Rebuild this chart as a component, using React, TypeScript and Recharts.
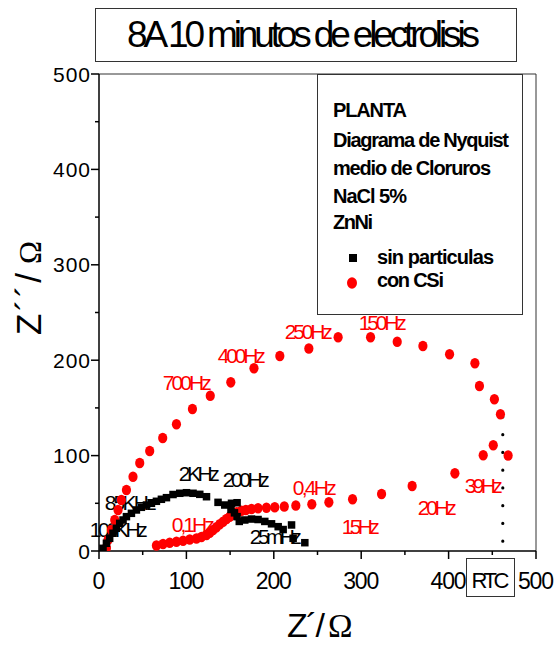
import React from "react";
import {
  ScatterChart,
  Scatter,
  XAxis,
  YAxis,
  ReferenceLine,
  ReferenceDot,
  Customized,
} from "recharts";

const SANS = "'Liberation Sans', Arial, sans-serif";
const SERIF = "'Liberation Serif', 'Times New Roman', serif";

// Z' (real) and Z'' (imaginary) in ohms, ZnNi without particles
const sinParticulasRe = [
  4.6, 8.5, 12.2, 16.0, 19.9, 23.7, 27.5, 31.4, 37.1, 42.8, 48.5, 54.3, 60.0, 65.7, 71.4, 77.2,
  84.7, 92.4, 100.1, 107.6, 115.3, 123.0, 136.2, 143.9, 151.6, 158.0, 151.0, 155.0, 158.0, 160.5,
  166.8, 174.5, 182.0, 189.7, 197.4, 205.0, 210.7, 220.3, 222.1, 235.5,
];
const sinParticulasIm = [
  2.8, 8.1, 13.3, 18.6, 23.8, 29.0, 32.5, 36.0, 39.5, 43.0, 45.8, 48.2, 50.0, 52.1, 54.2, 55.9,
  59.2, 60.5, 61.1, 60.5, 59.4, 56.9, 51.0, 48.2, 50.0, 50.6, 43.5, 40.0, 36.0, 31.0,
  32.5, 33.5, 33.0, 31.0, 28.5, 25.5, 22.5, 27.3, 13.3, 8.7,
];

// ZnNi with CSi particles: high-frequency arc, then low-frequency branch
const conCSiRe = [
  8.5, 10.3, 14.2, 18.0, 21.8, 25.6, 31.4, 38.9, 46.6, 58.0, 72.9, 88.6, 106.9, 127.3, 150.8,
  177.3, 206.9, 240.1, 273.6, 310.7, 341.2, 370.6, 401.1, 430.1, 435.3, 452.4, 459.3, 468.1,
  451.1, 439.6, 407.2, 358.3, 323.3, 290.1, 263.0, 243.5, 225.2, 212.0, 201.1, 191.6, 182.0,
  174.5, 168.0, 163.0, 157.6, 153.4, 149.6, 145.9, 142.0, 138.2, 134.4, 130.5, 126.7, 123.0,
  117.2, 111.5, 103.8, 96.2, 88.6, 80.9, 73.3, 65.7,
];
const conCSiIm = [
  3.1, 11.5, 22.0, 32.5, 43.0, 53.5, 64.0, 77.9, 92.2, 104.8, 118.4, 132.8, 148.8, 162.8, 176.8,
  191.5, 204.4, 212.3, 224.0, 224.0, 219.4, 214.9, 206.2, 196.8, 173.0, 159.1, 143.4, 100.1,
  110.8, 100.3, 81.4, 68.1, 59.7, 54.2, 51.0, 49.0, 47.7, 46.6, 45.8, 45.4, 44.8,
  44.0, 43.0, 42.2, 40.6, 38.5, 36.0, 33.5, 30.7, 28.0, 24.8, 22.0, 19.2, 16.8,
  14.7, 13.1, 12.1, 10.8, 9.7, 8.7, 7.3, 5.8,
];

// frequency annotations, anchored at the start of the text baseline (data units)
const sinParticulasFreqs = ["100KHz", "85KHz", "2KHz", "200Hz", "25mHz"];
const sinParticulasFreqRe = [-10.6, 6.5, 91.2, 141.6, 172.6];
const sinParticulasFreqIm = [14.7, 43.0, 73.4, 67.1, 7.3];

const conCSiFreqs = ["700Hz", "400Hz", "250Hz", "150Hz", "39Hz", "20Hz", "15Hz", "0,4Hz", "0,1Hz"];
const conCSiFreqRe = [72.9, 135.9, 212.6, 297.3, 418.6, 364.8, 277.8, 221.7, 83.2];
const conCSiFreqIm = [168.8, 197.1, 222.2, 231.7, 60.8, 37.7, 17.8, 58.7, 19.9];

const axisTicks = [0, 50, 100, 150, 200, 250, 300, 350, 400, 450, 500];

// charge transfer resistance marker
const rtcRe = 462;
const rtcTopIm = 140.5;

const legendLines = ["PLANTA", "Diagrama de Nyquist", "medio de Cloruros", "NaCl 5%", "ZnNi"];
const seriesNames = ["sin particulas", "con CSi"];

// rendered text widths (px) for the condensed look
const legendLineWidth = [74, 176, 158, 74, 40];
const seriesNameWidth = [117, 67];
const freqWidth: Record<string, number> = {
  "100KHz": 58, "85KHz": 52, "2KHz": 41, "200Hz": 47, "25mHz": 52,
  "700Hz": 49, "400Hz": 48, "250Hz": 48, "150Hz": 48, "39Hz": 38,
  "20Hz": 39, "15Hz": 38, "0,4Hz": 44, "0,1Hz": 43,
};

const sinParticulas = sinParticulasRe.map((re, i) => ({ re, im: sinParticulasIm[i] }));
const conCSi = conCSiRe.map((re, i) => ({ re, im: conCSiIm[i] }));

const RED = "#ff0000";

const Square = (p: any) => (
  <rect x={p.cx - 3.75} y={p.cy - 3.75} width={7.5} height={7.5} fill="#000" />
);
const RedDot = (p: any) => <ellipse cx={p.cx} cy={p.cy} rx={4.6} ry={5.3} fill={RED} />;

const YTick = ({ x, y, payload }: any) => {
  const major = payload.value % 100 === 0;
  const label = String(payload.value);
  return (
    <g>
      <line x1={x} x2={x - (major ? 8 : 4)} y1={y} y2={y} stroke="#000" strokeWidth={1.5} />
      {major && (
        <text
          x={x - 9}
          y={y + 7.5}
          textAnchor="end"
          fontFamily={SANS}
          fontSize={21}
          fill="#000"
          textLength={label.length > 1 ? 37 : undefined}
          lengthAdjust="spacing"
        >
          {label}
        </text>
      )}
    </g>
  );
};

const XTick = ({ x, y, payload }: any) => {
  const major = payload.value % 100 === 0;
  const label = String(payload.value);
  return (
    <g>
      <line x1={x} x2={x} y1={y} y2={y + (major ? 8 : 4)} stroke="#000" strokeWidth={1.5} />
      {major && (
        <text
          x={x}
          y={y + 38}
          textAnchor="middle"
          fontFamily={SANS}
          fontSize={23}
          fill="#000"
          textLength={label.length > 1 ? 36 : undefined}
          lengthAdjust="spacing"
        >
          {label}
        </text>
      )}
    </g>
  );
};

const freqLabel = (text: string, color: string) => (p: any) => (
  <text
    x={p.cx}
    y={p.cy}
    fontFamily={SANS}
    fontSize={21}
    fill={color}
    textLength={freqWidth[text]}
    lengthAdjust="spacing"
  >
    {text}
  </text>
);

// title, legend box, axis titles and the RTC tag
const Decor = () => (
  <g fontFamily={SANS} fill="#000">
    <rect x={95.5} y={8.5} width={421} height={53} fill="#fff" stroke="#333" />
    <text x={127} y={47} fontSize={37} textLength={353} lengthAdjust="spacing">
      8A 10 minutos de electrolisis
    </text>

    <rect x={317.5} y={74.5} width={205} height={240} fill="#fff" stroke="#333" />
    {legendLines.map((line, i) => (
      <text
        key={line}
        x={333}
        y={[117, 147, 175, 203, 229][i]}
        fontSize={20}
        fontWeight="bold"
        textLength={legendLineWidth[i]}
        lengthAdjust="spacing"
      >
        {line}
      </text>
    ))}
    <rect x={349} y={254} width={8} height={8} fill="#000" />
    <ellipse cx={352} cy={283} rx={5} ry={5.8} fill={RED} />
    {seriesNames.map((name, i) => (
      <text
        key={name}
        x={377}
        y={[264, 287][i]}
        fontSize={20}
        fontWeight="bold"
        textLength={seriesNameWidth[i]}
        lengthAdjust="spacing"
      >
        {name}
      </text>
    ))}

    {/* axis titles: Z in sans, ohm sign in serif */}
    <text x={287} y={637} fontSize={34} textLength={38} lengthAdjust="spacing">
      Z´/
    </text>
    <text x={328} y={637} fontSize={33} fontFamily={SERIF}>
      Ω
    </text>
    <g transform="translate(41,335) rotate(-90)">
      <text x={0} y={0} fontSize={35} textLength={62} lengthAdjust="spacing">
        Z´´/
      </text>
      <text x={71} y={0} fontSize={31} fontFamily={SERIF}>
        Ω
      </text>
    </g>

    <rect x={466.5} y={558.5} width={48} height={38} fill="#fff" stroke="#333" />
    <text x={490.5} y={588} fontSize={22} textAnchor="middle" textLength={38} lengthAdjust="spacing">
      RTC
    </text>
  </g>
);

export default function App() {
  return (
    <div style={{ position: "absolute", left: 0, top: 0, width: 557, height: 645, background: "#fff" }}>
      <ScatterChart width={557} height={645} margin={{ top: 74, right: 21, bottom: 0, left: 0 }}>
        <XAxis
          type="number"
          dataKey="re"
          domain={[0, 500]}
          ticks={axisTicks}
          interval={0}
          allowDataOverflow
          height={94}
          tickSize={0}
          tickMargin={0}
          tickLine={false}
          tick={<XTick />}
          axisLine={{ stroke: "#000", strokeWidth: 1.5 }}
        />
        <YAxis
          type="number"
          dataKey="im"
          domain={[0, 500]}
          ticks={axisTicks}
          interval={0}
          allowDataOverflow
          width={99}
          tickSize={0}
          tickMargin={0}
          tickLine={false}
          tick={<YTick />}
          axisLine={{ stroke: "#000", strokeWidth: 1.5 }}
        />
        <ReferenceLine y={500} stroke="#333" strokeWidth={1} />
        <ReferenceLine x={500} stroke="#333" strokeWidth={1} />
        <ReferenceLine
          segment={[
            { x: rtcRe, y: rtcTopIm },
            { x: rtcRe, y: 0 },
          ]}
          stroke="#000"
          strokeWidth={3.2}
          strokeDasharray="0 17.75"
          strokeLinecap="round"
        />
        {sinParticulasFreqs.map((f, i) => (
          <ReferenceDot
            key={f}
            x={sinParticulasFreqRe[i]}
            y={sinParticulasFreqIm[i]}
            r={0}
            ifOverflow="visible"
            shape={freqLabel(f, "#000")}
          />
        ))}
        {conCSiFreqs.map((f, i) => (
          <ReferenceDot
            key={f}
            x={conCSiFreqRe[i]}
            y={conCSiFreqIm[i]}
            r={0}
            ifOverflow="visible"
            shape={freqLabel(f, RED)}
          />
        ))}
        <Scatter name="con CSi" data={conCSi} shape={RedDot} isAnimationActive={false} />
        <Scatter name="sin particulas" data={sinParticulas} shape={Square} isAnimationActive={false} />
        <Customized component={Decor} />
      </ScatterChart>
    </div>
  );
}
